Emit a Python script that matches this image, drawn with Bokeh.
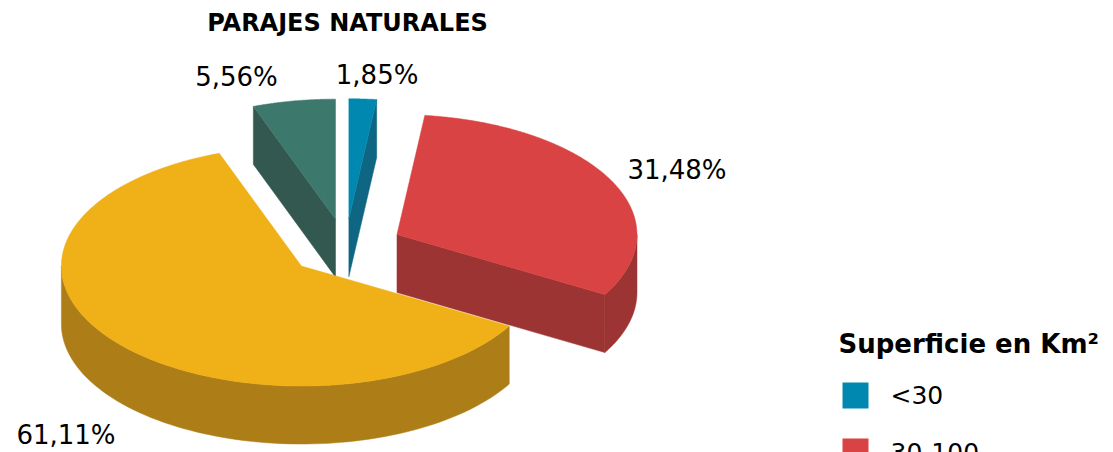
import numpy as np
from bokeh.plotting import figure
from bokeh.models import Range1d, ColumnDataSource
from bokeh.embed import file_html
from bokeh.resources import INLINE
from bokeh.core.properties import value

# ---------------- data ----------------
chart_title = "PARAJES NATURALES"
legend_title = "Superficie en Km²"
categories = ["<30", "30-100", "100-500", ">500"]
shares = [1.85, 31.48, 61.11, 5.56]
share_labels = ["1,85%", "31,48%", "61,11%", "5,56%"]
top_colors = ["#0088B0", "#DA4343", "#F0B017", "#3D786D"]
side_colors = ["#0E6683", "#9B3432", "#AD7E18", "#32584F"]

# ---------------- layout ----------------
W, H = 1113, 452
FONT = "DejaVu Sans"
cx, cy = 345, 247          # pie centre (page pixels)
rx, ry = 240, 120          # ellipse radii of top face
depth = 58                 # thickness
explode = 0.24

p = figure(width=W, height=H, x_range=Range1d(0, W), y_range=Range1d(H, 0),
           output_backend="svg", toolbar_location=None, min_border=0)
p.axis.visible = False
p.grid.visible = False
p.outline_line_color = None
p.background_fill_color = "white"


def ell(ox, oy, t, r=1.0):
    return ox + rx * r * np.sin(t), oy - ry * r * np.cos(t)


total = sum(shares)
fr = np.array(shares) / total
starts = np.concatenate([[0], np.cumsum(fr)[:-1]]) * 2 * np.pi
ends = np.cumsum(fr) * 2 * np.pi

slices = []
for i in range(len(shares)):
    a0, a1 = starts[i], ends[i]
    m = 0.5 * (a0 + a1)
    ox, oy = ell(cx, cy, m, explode)
    slices.append((oy, i, a0, a1, m, ox))

for oy, i, a0, a1, m, ox in sorted(slices):
    sx, sy, sc = [], [], []
    # radial face at start edge
    if np.sin(a0) < -1e-9:
        px, py = ell(ox, oy, a0)
        sx.append([ox, px, px, ox]); sy.append([oy, py, py + depth, oy + depth])
    # radial face at end edge
    if np.sin(a1) > 1e-9:
        px, py = ell(ox, oy, a1)
        sx.append([ox, px, px, ox]); sy.append([oy, py, py + depth, oy + depth])
    # outer curved side (front half)
    lo, hi = max(a0, np.pi / 2), min(a1, 3 * np.pi / 2)
    if lo < hi:
        t = np.linspace(lo, hi, 80)
        xs, ys = ell(ox, oy, t)
        sx.append(list(xs) + list(xs[::-1]))
        sy.append(list(ys) + list((ys + depth)[::-1]))
    if sx:
        p.patches(sx, sy, fill_color=side_colors[i], line_color=side_colors[i], line_width=0.5)
    # top face
    t = np.linspace(a0, a1, max(4, int(200 * (a1 - a0))))
    xs, ys = ell(ox, oy, t)
    p.patch([ox] + list(xs), [oy] + list(ys), fill_color=top_colors[i],
            line_color=top_colors[i], line_width=0.5)

# ---------------- data labels ----------------
lx, ly, la = [], [], []
for oy, i, a0, a1, m, ox in slices:
    px, py = ell(ox, oy, m)
    if np.cos(m) < 0:
        py += depth
    s = np.sin(m)
    if abs(s) < 0.1:
        la.append("left"); lx.append(px - 27)
    elif s > 0:
        la.append("left"); lx.append(px + 16)
    elif np.cos(m) < 0:
        la.append("right"); lx.append(px - 2)
    else:
        la.append("right"); lx.append(px - 16)
    ly.append(py - np.cos(m) * 24 if np.cos(m) > 0 else py + 34)
lsrc = ColumnDataSource(dict(x=lx, y=ly, t=share_labels, a=la))
p.text("x", "y", text="t", text_align="a", source=lsrc, text_baseline="middle",
       text_font=value(FONT), text_font_size="26px", text_color="#000000")

# ---------------- title ----------------
p.text([cx + 2], [22], text=[chart_title], text_align="center", text_baseline="middle",
       text_font=value(FONT), text_font_size="24px", text_font_style="bold", text_color="#000000")

# ---------------- legend ----------------
leg_x, leg_y0, step = 838, 343, 56
p.text([leg_x], [leg_y0], text=[legend_title], text_align="left", text_baseline="middle",
       text_font=value(FONT), text_font_size="26px", text_font_style="bold", text_color="#000000")
ky = [leg_y0 + 52 + k * step for k in range(len(categories))]
p.rect([leg_x + 17] * len(categories), ky, width=26, height=26,
       fill_color=top_colors, line_color=None)
p.text([leg_x + 52] * len(categories), ky, text=categories, text_align="left",
       text_baseline="middle", text_font=value(FONT), text_font_size="25px", text_color="#000000")

open("out.html", "w").write(file_html(p, INLINE))
